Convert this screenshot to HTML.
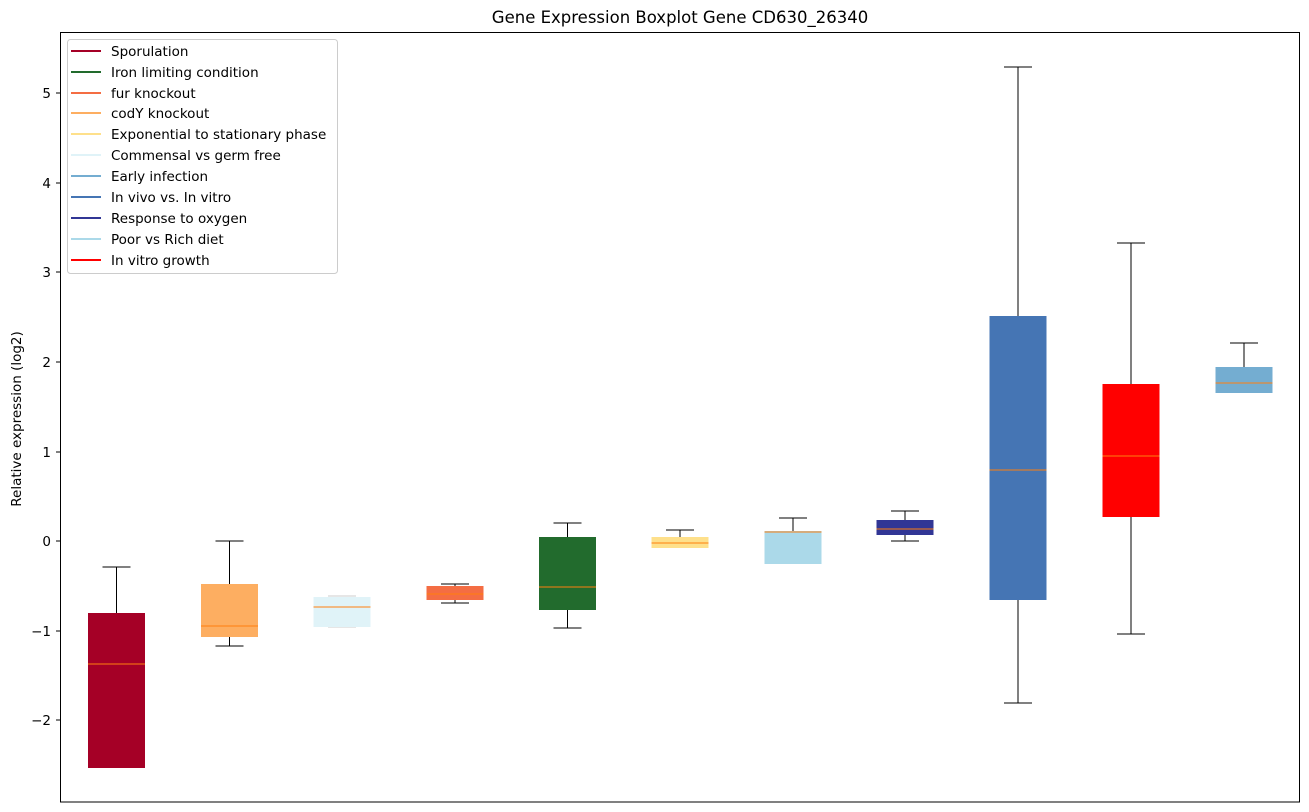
<!DOCTYPE html><html><head><style>body{margin:0;background:#fff}svg{display:block}</style></head><body>
<svg width="1309" height="812" xmlns="http://www.w3.org/2000/svg" font-family="DejaVu Sans, Liberation Sans, sans-serif">
<rect width="1309" height="812" fill="#fff"/>
<text x="680" y="23" font-size="16.5" text-anchor="middle">Gene Expression Boxplot Gene CD630_26340</text>
<g font-size="13.5" text-anchor="end">
<g stroke="#000"><line x1="56" x2="61" y1="93" y2="93"/><line x1="56" x2="61" y1="183" y2="183"/><line x1="56" x2="61" y1="272" y2="272"/><line x1="56" x2="61" y1="362" y2="362"/><line x1="56" x2="61" y1="452" y2="452"/><line x1="56" x2="61" y1="541" y2="541"/><line x1="56" x2="61" y1="631" y2="631"/><line x1="56" x2="61" y1="720" y2="720"/></g>
<text x="51" y="98">5</text><text x="51" y="188">4</text><text x="51" y="277">3</text><text x="51" y="367">2</text><text x="51" y="457">1</text><text x="51" y="546">0</text><text x="51" y="636">−1</text><text x="51" y="725">−2</text>
</g>
<text transform="translate(21,419) rotate(-90)" font-size="13.5" text-anchor="middle">Relative expression (log2)</text>
<g stroke="#000" fill="none">
<line x1="116.5" x2="116.5" y1="567" y2="613"/><line x1="102.5" x2="130.5" y1="567" y2="567"/>
<line x1="229.5" x2="229.5" y1="541" y2="584"/><line x1="229.5" x2="229.5" y1="637" y2="646"/><line x1="215.5" x2="243.5" y1="541" y2="541"/><line x1="215.5" x2="243.5" y1="646" y2="646"/>
<line x1="455" x2="455" y1="584" y2="603"/><line x1="441" x2="469" y1="584" y2="584"/><line x1="441" x2="469" y1="603" y2="603"/>
<line x1="567.5" x2="567.5" y1="523" y2="628"/><line x1="553.5" x2="581.5" y1="523" y2="523"/><line x1="553.5" x2="581.5" y1="628" y2="628"/>
<line x1="680" x2="680" y1="530" y2="537"/><line x1="666" x2="694" y1="530" y2="530"/>
<line x1="793" x2="793" y1="518" y2="531"/><line x1="779" x2="807" y1="518" y2="518"/>
<line x1="905" x2="905" y1="511" y2="541"/><line x1="891" x2="919" y1="511" y2="511"/><line x1="891" x2="919" y1="541" y2="541"/>
<line x1="1018" x2="1018" y1="67" y2="703"/><line x1="1004" x2="1032" y1="67" y2="67"/><line x1="1004" x2="1032" y1="703" y2="703"/>
<line x1="1131" x2="1131" y1="243" y2="634"/><line x1="1117" x2="1145" y1="243" y2="243"/><line x1="1117" x2="1145" y1="634" y2="634"/>
<line x1="1244" x2="1244" y1="343" y2="367"/><line x1="1230" x2="1258" y1="343" y2="343"/>
</g>
<g stroke="#ccc"><line x1="328" x2="356" y1="596" y2="596"/><line x1="328" x2="356" y1="627" y2="627"/></g>
<rect x="88" y="613" width="57" height="155" fill="#a50026"/>
<rect x="201" y="584" width="57" height="53" fill="#fdae61"/>
<rect x="313.5" y="597" width="57" height="30" fill="#e0f3f8"/>
<rect x="426.5" y="586" width="57" height="14" fill="#f46d43"/>
<rect x="539" y="537" width="57" height="73" fill="#226b2d"/>
<rect x="651.5" y="537" width="57" height="11" fill="#fee08b"/>
<rect x="764.5" y="531" width="57" height="33" fill="#abd9e9"/>
<rect x="876.5" y="520" width="57" height="15" fill="#313695"/>
<rect x="989.5" y="316" width="57" height="284" fill="#4575b4"/>
<rect x="1102.5" y="384" width="57" height="133" fill="#ff0000"/>
<rect x="1215.5" y="367" width="57" height="26" fill="#74add1"/>
<g stroke="#ff7f0e">
<line x1="88" x2="145" y1="664" y2="664"/><line x1="201" x2="258" y1="626" y2="626"/><line x1="313.5" x2="370.5" y1="607" y2="607"/><line x1="426.5" x2="483.5" y1="594" y2="594"/><line x1="539" x2="596" y1="587" y2="587"/><line x1="651.5" x2="708.5" y1="543" y2="543"/><line x1="764.5" x2="821.5" y1="532" y2="532"/><line x1="876.5" x2="933.5" y1="529" y2="529"/><line x1="989.5" x2="1046.5" y1="470" y2="470"/><line x1="1102.5" x2="1159.5" y1="456" y2="456"/><line x1="1215.5" x2="1272.5" y1="383" y2="383"/>
</g>
<rect x="60.5" y="32.5" width="1239" height="769.5" fill="none" stroke="#000"/>
<rect x="67.5" y="39.5" width="270" height="234" rx="3" fill="#fff" fill-opacity="0.8" stroke="#ccc"/>
<g font-size="13.5" stroke-width="2">
<line x1="71" x2="101" y1="51" y2="51" stroke="#a50026"/><text x="111" y="56" stroke="none">Sporulation</text>
<line x1="71" x2="101" y1="72" y2="72" stroke="#226b2d"/><text x="111" y="77" stroke="none">Iron limiting condition</text>
<line x1="71" x2="101" y1="93" y2="93" stroke="#f46d43"/><text x="111" y="98" stroke="none">fur knockout</text>
<line x1="71" x2="101" y1="113" y2="113" stroke="#fdae61"/><text x="111" y="118" stroke="none">codY knockout</text>
<line x1="71" x2="101" y1="134" y2="134" stroke="#fee08b"/><text x="111" y="139" stroke="none">Exponential to stationary phase</text>
<line x1="71" x2="101" y1="155" y2="155" stroke="#e0f3f8"/><text x="111" y="160" stroke="none">Commensal vs germ free</text>
<line x1="71" x2="101" y1="176" y2="176" stroke="#74add1"/><text x="111" y="181" stroke="none">Early infection</text>
<line x1="71" x2="101" y1="197" y2="197" stroke="#4575b4"/><text x="111" y="202" stroke="none">In vivo vs. In vitro</text>
<line x1="71" x2="101" y1="218" y2="218" stroke="#313695"/><text x="111" y="223" stroke="none">Response to oxygen</text>
<line x1="71" x2="101" y1="239" y2="239" stroke="#abd9e9"/><text x="111" y="244" stroke="none">Poor vs Rich diet</text>
<line x1="71" x2="101" y1="260" y2="260" stroke="#ff0000"/><text x="111" y="265" stroke="none">In vitro growth</text>
</g>
</svg></body></html>
